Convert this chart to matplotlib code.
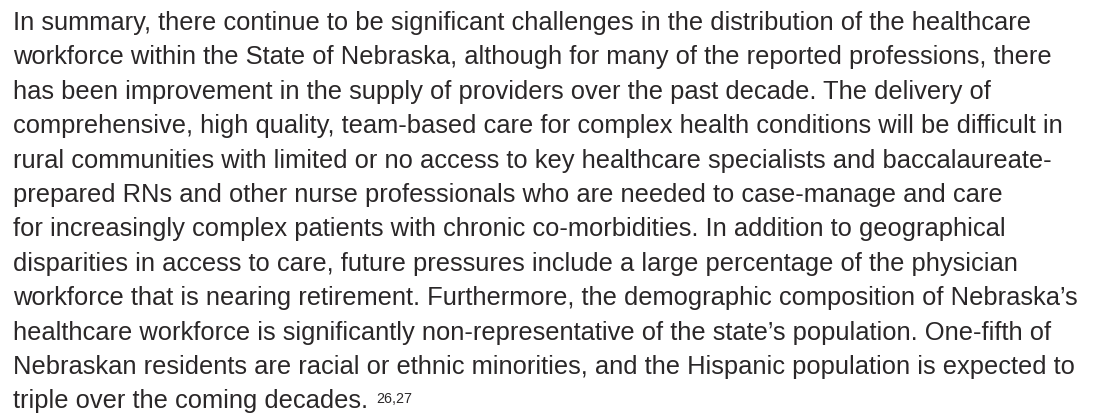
import matplotlib
matplotlib.use("Agg")
import matplotlib.pyplot as plt

# paragraph lines as laid out in the reference
lines = [
    "In summary, there continue to be significant challenges in the distribution of the healthcare",
    "workforce within the State of Nebraska, although for many of the reported professions, there",
    "has been improvement in the supply of providers over the past decade. The delivery of",
    "comprehensive, high quality, team-based care for complex health conditions will be difficult in",
    "rural communities with limited or no access to key healthcare specialists and baccalaureate-",
    "prepared RNs and other nurse professionals who are needed to case-manage and care",
    "for increasingly complex patients with chronic co-morbidities. In addition to geographical",
    "disparities in access to care, future pressures include a large percentage of the physician",
    "workforce that is nearing retirement. Furthermore, the demographic composition of Nebraska\u2019s",
    "healthcare workforce is significantly non-representative of the state\u2019s population. One-fifth of",
    "Nebraskan residents are racial or ethnic minorities, and the Hispanic population is expected to",
    "triple over the coming decades.",
]
footnote = "26,27"

W, H = 1106, 416
fig = plt.figure(figsize=(W / 100, H / 100), dpi=100)
fig.patch.set_facecolor("white")

color = "#2a2728"
family = "Liberation Sans"

left = 13
right = 1033      # where the first line ends
base0 = 30.0      # first baseline, px from top
step = 34.4

# size the font so the first line spans the same width as the reference
probe = fig.text(0, 0.5, lines[0], fontsize=10, family=family)
fig.canvas.draw()
w10 = probe.get_window_extent().width
probe.remove()
size = 10 * (right - left) / w10

last = None
for i, s in enumerate(lines):
    y = 1 - (base0 + i * step) / H
    last = fig.text(left / W, y, s, fontsize=size, family=family,
                    color=color, va="baseline", ha="left")

# superscript footnote refs
fig.canvas.draw()
bb = last.get_window_extent()
sup_base = 1 - (base0 + (len(lines) - 1) * step - 5) / H
fig.text((bb.x1 + 8) / W, sup_base, footnote, fontsize=size * 0.56,
         family=family, color=color, va="baseline", ha="left")

fig.savefig("out.png", dpi=100, facecolor="white")
